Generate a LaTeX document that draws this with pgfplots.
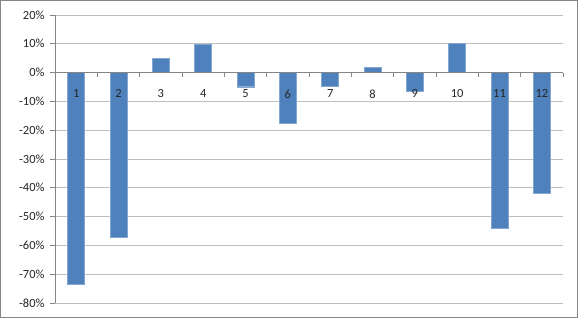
\documentclass[border=0pt]{standalone}
\usepackage{pgfplots}
\pgfplotsset{compat=1.18}
\usepackage{fontspec}
\setmainfont{Carlito}
\definecolor{barblue}{HTML}{4F81BD}
\definecolor{gridgray}{HTML}{BFBFBF}
\definecolor{axisgray}{HTML}{868686}
\definecolor{txt}{HTML}{262626}
\pgfplotsset{
  refgeom/.style={
    at={(55bp,15bp)}, anchor=south west,
    scale only axis, width=508bp, height=288bp,
    xmin=0.5, xmax=12.5, ymin=-80, ymax=20,
    /pgf/number format/assume math mode=true,
    tick label style={font=\fontsize{12.5}{14}\selectfont, text=txt},
  },
}
\begin{document}
\begin{tikzpicture}
\useasboundingbox (0,0) rectangle (578bp,318bp);
\draw[axisgray, line width=0.8bp] (0.5bp,0.5bp) rectangle (577.5bp,317.5bp);
\begin{axis}[
  refgeom,
  axis y line*=left,
  axis x line=none,
  ytick={-80,-70,...,20},
  yticklabel={\pgfmathprintnumber{\tick}\%},
  ymajorgrids, grid style={gridgray, line width=0.8bp},
  y axis line style={axisgray, line width=0.8bp, -},
  ytick align=outside, major tick length=5bp,
  ytick style={axisgray, line width=0.8bp},
  yticklabel style={xshift=-2bp},
  ybar, bar width=17bp,
]
\addplot[fill=barblue, draw=barblue!70!white, line width=0.4bp] coordinates {
(1,-73.4) (2,-57.2) (3,5.0) (4,9.9) (5,-4.9) (6,-17.6)
(7,-4.6) (8,1.8) (9,-6.4) (10,10.2) (11,-53.9) (12,-41.9)
};
\end{axis}
\begin{axis}[
  refgeom,
  hide y axis,
  axis x line=middle,
  x axis line style={axisgray, line width=0.8bp, -},
  xtick={1,...,12},
  major x tick style={draw=none},
  minor xtick={0.5,1.5,...,12.5},
  minor x tick style={axisgray, line width=0.8bp},
  xtick align=outside, minor tick length=4bp,
  xticklabel style={anchor=center, yshift=-17bp},
]
\end{axis}
\end{tikzpicture}
\end{document}
